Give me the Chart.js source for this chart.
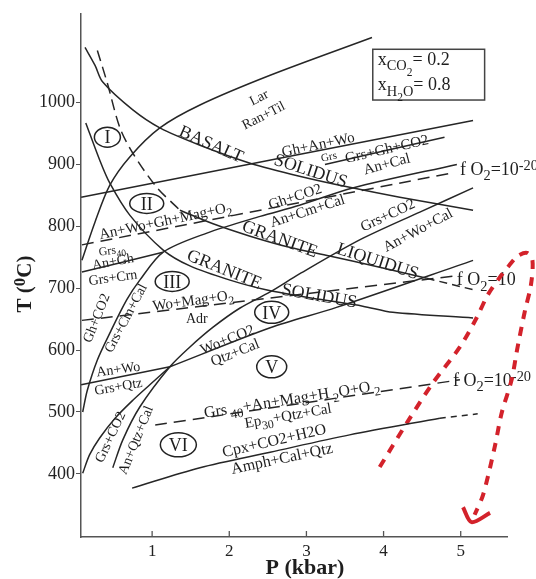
<!DOCTYPE html>
<html>
<head>
<meta charset="utf-8">
<script src="https://cdn.jsdelivr.net/npm/chart.js@4.4.0/dist/chart.umd.min.js"></script>
<style>
  html, body { margin: 0; padding: 0; background: #fff; }
</style>
</head>
<body>
<canvas id="diagrama" width="536" height="579"></canvas>
<script>
// Ejes
const pTicks = [1, 2, 3, 4, 5];
const tTicks = [400, 500, 600, 700, 800, 900, 1000];

// Curvas de reacción, pares [P (kbar), T (°C)]
const larRanTil = [[0.09,745],[0.26,807],[0.45,866],[0.71,912],[1.10,959],[1.62,996],[2.53,1044],[3.85,1105]];
const basaltSolidus = [[0.13,1089],[0.26,1060],[0.36,1033],[0.75,988],[1.10,959],[1.62,931],[2.27,902],[2.91,881],[3.56,863],[4.21,847],[5.16,826]];
const graniteLiqBaja = [[0.29,1084],[0.42,1031],[0.58,960],[0.75,918],[1.06,863],[1.36,826]];
const graniteLiquidus = [[1.36,826],[1.79,804],[2.27,784],[2.78,766],[3.30,752],[3.95,734],[4.56,716]];
const graniteLiqAlta = [[4.56,716],[5.18,697]];
const graniteSolidus = [[0.14,967],[0.32,907],[0.45,870],[0.71,818],[1.14,762],[1.49,736],[2.01,713],[2.49,697],[3.17,682],[3.73,671],[4.12,661],[5.16,652]];
const ghAnWo = [[0.08,847],[5.16,971]];
const grsGhCo2 = [[3.24,900],[4.79,944]];
const ghCo2 = [[0.10,500],[0.16,535],[0.29,584],[0.45,627],[0.67,681],[0.84,713],[1.14,758],[1.71,789],[2.40,816],[2.91,834],[3.60,862],[4.95,900]];
const fo2Alto = [[0.09,770],[4.92,887]];
const anGh = [[0.09,726],[1.14,758]];
const woMagAdr = [[0.09,648],[4.95,720]];
const grsCo2Baja = [[0.10,401],[0.19,431],[0.32,458],[0.52,490],[0.75,519],[0.97,544],[1.23,573]];
const grsCo2Cal = [[0.49,410],[0.62,455],[0.84,508],[1.23,573],[1.49,605],[1.79,637],[2.14,668],[2.53,694],[2.91,723],[3.69,778],[4.47,823],[5.16,862]];
const anWoQtz = [[0.08,544],[1.23,573]];
const woCo2 = [[1.23,573],[2.53,636],[3.39,669],[5.16,745]];
const epidota = [[1.04,479],[4.99,552]];
const cpxAmph = [[0.74,377],[1.62,410],[2.53,435],[3.56,463],[4.73,490]];
const cpxAmphFin = [[4.73,490],[5.22,497]];
const flechaRoja = [[3.95,411],[4.30,482],[4.64,547],[4.99,605],[5.21,653],[5.35,689],[5.51,718],[5.63,737],[5.74,752],[5.86,757],[5.93,745],[5.91,705],[5.83,662],[5.73,600],[5.66,552],[5.53,498],[5.44,443],[5.29,366],[5.18,334]];
const puntaFlecha = [[5.03,346],[5.14,322],[5.38,337]];

// Rótulos: [texto, P, T, giro°, tamaño]
const rotulos = [
  ["Lar", 2.38, 1009, -27, 14],
  ["Ran+Til", 2.44, 980, -27, 14],
  ["BASALT", 1.77, 934, 24, 18],
  ["SOLIDUS", 3.06, 891, 18, 18],
  ["Gh+An+Wo", 3.15, 933, -12, 15],
  ["Grs", 3.29, 913, -12, 11],
  ["Grs+Gh+CO2", 4.04, 926, -13, 15],
  ["An+Cal", 4.04, 902, -15, 15],
  ["An+Wo+Gh+Mag+O_{2}", 1.17, 810, -12, 15],
  ["Grs_{40}", 0.48, 762, -8, 12],
  ["An+Gh", 0.49, 744, -10, 14],
  ["Grs+Crn", 0.49, 718, -8, 14],
  ["Gh+CO2", 2.85, 849, -18, 15],
  ["An+Cm+Cal", 3.01, 826, -18, 15],
  ["GRANITE", 2.66, 781, 20, 18],
  ["LIQUIDUS", 3.93, 745, 18, 18],
  ["GRANITE", 1.94, 732, 22, 18],
  ["SOLIDUS", 3.17, 689, 10, 18],
  ["Grs+CO2", 4.05, 819, -25, 15],
  ["An+Wo+Cal", 4.44, 795, -28, 15],
  ["Gh+CO2", 0.27, 652, -68, 14],
  ["Grs+Cm+Cal", 0.65, 652, -62, 14],
  ["Wo+Mag+O_{2}", 1.53, 681, -8, 15],
  ["Adr", 1.58, 652, 0, 14],
  ["Wo+CO2", 1.97, 618, -22, 15],
  ["Qtz+Cal", 2.07, 597, -22, 15],
  ["An+Wo", 0.56, 570, -8, 14],
  ["Grs+Qtz", 0.56, 542, -10, 14],
  ["Grs+CO2", 0.45, 460, -65, 14],
  ["An+Qtz+Cal", 0.78, 455, -68, 14],
  ["Grs_{ 40}+An+Mag+H_{ 2}O+O_{ 2}", 2.81, 522, -9, 16],
  ["Ep_{30}+Qtz+Cal", 2.76, 495, -10, 15],
  ["Cpx+CO2+H2O", 2.58, 455, -13, 16],
  ["Amph+Cal+Qtz", 2.68, 426, -12, 16]
];
// rótulos alineados a la izquierda (fugacidad de oxígeno)
const rotulosFo2 = [
  ["f O_{2}=10^{-20}", 4.99, 893, 18],
  ["f O_{2}=10", 4.95, 715, 18],
  ["f O_{2}=10^{-20}", 4.90, 552, 18]
];
// Campos numerados: [texto, P, T, rx, ry]
const campos = [
  ["I", 0.42, 944, 13, 10],
  ["II", 0.93, 837, 17, 10],
  ["III", 1.26, 711, 17, 10],
  ["IV", 2.55, 661, 17, 11],
  ["V", 2.55, 573, 15, 11],
  ["VI", 1.34, 447, 18, 12]
];
// Recuadro de composición del fluido
const recuadro = { p1: 3.86, p2: 5.31, t1: 1086, t2: 1004 };
const fluido = [["x_{CO_{2}}= 0.2", 1071], ["x_{H_{2}O}= 0.8", 1030]];

const serif = "'Liberation Serif', 'Times New Roman', serif";

function serie(pts, dash, color, width) {
  return {
    data: pts.map(([x, y]) => ({ x, y })),
    borderColor: color || "#262626",
    borderWidth: width || 1.5,
    borderDash: dash || [],
    pointRadius: 0,
    tension: 0.3,
    fill: false,
    clip: false
  };
}

// texto con subíndices _{} y superíndices ^{}
function partes(str, lvl, out) {
  let i = 0, buf = "";
  while (i < str.length) {
    const c = str[i];
    if ((c === "_" || c === "^") && str[i + 1] === "{") {
      if (buf) { out.push({ s: buf, lvl }); buf = ""; }
      let depth = 0, j = i + 1;
      for (; j < str.length; j++) {
        if (str[j] === "{") depth++;
        else if (str[j] === "}") { depth--; if (depth === 0) break; }
      }
      partes(str.slice(i + 2, j), c === "_" ? lvl - 1 : lvl + 1, out);
      i = j + 1;
    } else { buf += c; i++; }
  }
  if (buf) out.push({ s: buf, lvl });
  return out;
}

function texto(ctx, str, x, y, size, rot, alinear, peso) {
  const ps = partes(str, 0, []);
  ctx.save();
  ctx.translate(x, y);
  ctx.rotate(rot * Math.PI / 180);
  let w = 0;
  ps.forEach(p => {
    p.size = size * Math.pow(0.8, Math.abs(p.lvl));
    ctx.font = (peso || "") + " " + p.size + "px " + serif;
    p.w = ctx.measureText(p.s).width;
    w += p.w;
  });
  let cx = alinear === "left" ? 0 : -w / 2;
  ctx.textAlign = "left";
  ctx.textBaseline = "alphabetic";
  ctx.fillStyle = "#1e1e1e";
  ps.forEach(p => {
    ctx.font = (peso || "") + " " + p.size + "px " + serif;
    ctx.fillText(p.s, cx, size * 0.35 - p.lvl * size * 0.3);
    cx += p.w;
  });
  ctx.restore();
}

const anotaciones = {
  id: "anotaciones",
  beforeDatasetsDraw(chart) {
    const ctx = chart.ctx, x = chart.scales.x, y = chart.scales.y;
    rotulos.forEach(([t, p, v, r, s]) => texto(ctx, t, x.getPixelForValue(p), y.getPixelForValue(v), s, r));
    rotulosFo2.forEach(([t, p, v, s]) => texto(ctx, t, x.getPixelForValue(p), y.getPixelForValue(v), s, 0, "left"));
    campos.forEach(([t, p, v, rx, ry]) => {
      const cx = x.getPixelForValue(p), cy = y.getPixelForValue(v);
      ctx.save();
      ctx.beginPath();
      ctx.ellipse(cx, cy, rx, ry, 0, 0, Math.PI * 2);
      ctx.fillStyle = "#fff";
      ctx.fill();
      ctx.lineWidth = 1.5;
      ctx.strokeStyle = "#222";
      ctx.stroke();
      ctx.restore();
      texto(ctx, t, cx, cy, 18, 0);
    });
    // recuadro
    const bx1 = x.getPixelForValue(recuadro.p1), bx2 = x.getPixelForValue(recuadro.p2);
    const by1 = y.getPixelForValue(recuadro.t1), by2 = y.getPixelForValue(recuadro.t2);
    ctx.save();
    ctx.strokeStyle = "#444";
    ctx.lineWidth = 1.5;
    ctx.strokeRect(bx1, by1, bx2 - bx1, by2 - by1);
    ctx.restore();
    fluido.forEach(([t, v]) => texto(ctx, t, bx1 + 5, y.getPixelForValue(v), 18, 0, "left"));
    // marcas del eje P hacia dentro
    ctx.save();
    ctx.strokeStyle = "#555";
    ctx.lineWidth = 1.3;
    pTicks.forEach(p => {
      const px = x.getPixelForValue(p);
      ctx.beginPath();
      ctx.moveTo(px, x.top);
      ctx.lineTo(px, x.top - 6);
      ctx.stroke();
    });
    ctx.restore();
    // títulos de ejes
    texto(ctx, "T (^{0}C)", 24, 284, 21, -90, null, "bold");
    texto(ctx, "P (kbar)", 305, 566, 22, 0, null, "bold");
  }
};

const datasets = [
  serie(larRanTil),
  serie(basaltSolidus),
  serie(graniteLiqBaja, [11, 6]),
  serie(graniteLiquidus),
  serie(graniteLiqAlta, [8, 5]),
  serie(graniteSolidus),
  serie(ghAnWo),
  serie(grsGhCo2),
  serie(ghCo2),
  serie(fo2Alto, [12, 7]),
  serie(anGh),
  serie(woMagAdr, [12, 7]),
  serie(grsCo2Baja),
  serie(grsCo2Cal),
  serie(anWoQtz),
  serie(woCo2),
  serie(epidota, [12, 7]),
  serie(cpxAmph),
  serie(cpxAmphFin, [6, 5]),
  serie(flechaRoja, [9, 8], "#d3222b", 4),
  serie(puntaFlecha, [], "#d3222b", 4)
];

new Chart(document.getElementById("diagrama").getContext("2d"), {
  type: "line",
  data: { datasets },
  options: {
    responsive: false,
    animation: false,
    layout: { padding: { left: 0, top: 14, right: 29, bottom: 0 } },
    plugins: { legend: { display: false }, tooltip: { enabled: false } },
    scales: {
      x: {
        type: "linear",
        min: 0.078,
        max: 5.6,
        afterBuildTicks: s => { s.ticks = pTicks.map(v => ({ value: v })); },
        afterFit: s => { s.height = 42; s.paddingLeft = 0; s.paddingRight = 0; },
        grid: { display: true, drawOnChartArea: false, drawTicks: false },
        border: { display: true, color: "#555", width: 1.5 },
        ticks: { color: "#222", padding: 4, font: { family: serif, size: 17 }, callback: v => String(v) }
      },
      y: {
        type: "linear",
        min: 298,
        max: 1143,
        afterBuildTicks: s => { s.ticks = tTicks.map(v => ({ value: v })); },
        afterFit: s => { s.width = 81; s.paddingTop = 0; s.paddingBottom = 0; },
        grid: { display: true, drawOnChartArea: false, tickLength: 5, tickColor: "#555" },
        border: { display: true, color: "#555", width: 1.5 },
        ticks: { color: "#222", padding: 1, font: { family: serif, size: 18 }, callback: v => String(v) }
      }
    }
  },
  plugins: [anotaciones]
});
</script>
</body>
</html>
